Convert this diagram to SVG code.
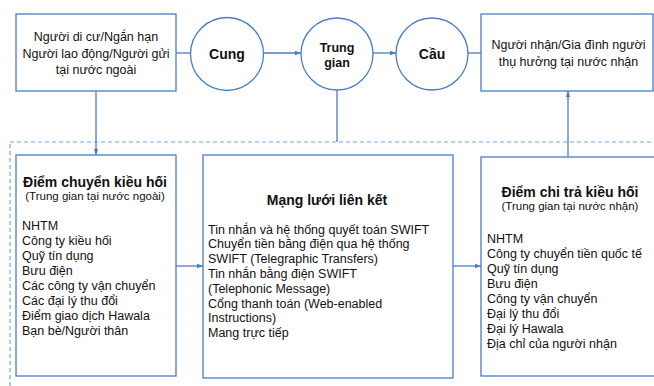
<svg xmlns="http://www.w3.org/2000/svg" width="654" height="386" viewBox="0 0 654 386">
<defs>
<style>
.box{fill:#fff;stroke:#4A7CC6;stroke-width:1.3}
.ln{fill:none;stroke:#4A7CC6;stroke-width:1.3}
.dash{fill:none;stroke:#7FA3DA;stroke-width:1.2;stroke-dasharray:4 3}
text{font-family:"Liberation Sans",Arial,sans-serif;fill:#111}
.t{font-size:12.5px}
.c{text-anchor:middle}
.b{font-weight:bold}
.h{font-size:14px;font-weight:bold}
.s{font-size:11.5px}
</style>
<marker id="ah" viewBox="0 0 6 6" refX="6" refY="3" markerWidth="6" markerHeight="6" orient="auto" markerUnits="userSpaceOnUse">
<path d="M0,0.8 L6,3 L0,5.2 Z" fill="#4A7CC6"/>
</marker>
</defs>
<rect width="654" height="386" fill="#fff"/>
<rect class="dash" x="10" y="142" width="660" height="260"/>
<g id="connectors">
<line class="ln" x1="176" y1="53" x2="190" y2="53"/>
<line class="ln" x1="263" y1="53" x2="301" y2="53" marker-end="url(#ah)"/>
<line class="ln" x1="373" y1="53" x2="396" y2="53" marker-end="url(#ah)"/>
<line class="ln" x1="468" y1="53" x2="481" y2="53"/>
<line class="ln" x1="96" y1="91" x2="96" y2="155" marker-end="url(#ah)"/>
<line class="ln" x1="337" y1="90" x2="337" y2="142"/>
<line class="ln" x1="568" y1="157" x2="568" y2="91" marker-end="url(#ah)"/>
<line class="ln" x1="176" y1="266" x2="203" y2="266" marker-end="url(#ah)"/>
<line class="ln" x1="453" y1="266" x2="481" y2="266" marker-end="url(#ah)"/>
</g>
<g id="sender">
<rect class="box" x="16" y="14" width="160" height="77"/>
<text class="t c" x="96" y="41">Người di cư/Ngắn hạn</text>
<text class="t c" x="96" y="57.5">Người lao động/Người gửi</text>
<text class="t c" x="96" y="74">tại nước ngoài</text>
</g>
<g id="cung">
<circle class="box" cx="227" cy="54" r="36.5"/>
<text class="h c" x="227" y="58.5">Cung</text>
</g>
<g id="trunggian">
<circle class="box" cx="337" cy="54" r="36"/>
<text class="t b c" x="337" y="51.5">Trung</text>
<text class="t b c" x="337" y="66.5">gian</text>
</g>
<g id="cau">
<circle class="box" cx="432" cy="54" r="36"/>
<text class="h c" x="432" y="58.5">Cầu</text>
</g>
<g id="receiver">
<rect class="box" x="481" y="14" width="172" height="77"/>
<text class="t c" x="568.5" y="49">Người nhận/Gia đình người</text>
<text class="t c" x="568.5" y="66">thụ hưởng tại nước nhận</text>
</g>
<g id="sendpoint">
<rect class="box" x="16" y="155" width="160" height="221"/>
<text class="h c" x="95" y="186.5">Điểm chuyển kiều hối</text>
<text class="s c" x="95" y="199.5">(Trung gian tại nước ngoài)</text>
<text class="t" x="22" y="229.5">NHTM</text>
<text class="t" x="22" y="244.5">Công ty kiều hối</text>
<text class="t" x="22" y="259.5">Quỹ tín dụng</text>
<text class="t" x="22" y="274.5">Bưu điện</text>
<text class="t" x="22" y="289.5">Các công ty vận chuyển</text>
<text class="t" x="22" y="304.5">Các đại lý thu đổi</text>
<text class="t" x="22" y="319.5">Điểm giao dịch Hawala</text>
<text class="t" x="22" y="334.5">Bạn bè/Người thân</text>
</g>
<g id="network">
<rect class="box" x="203" y="155" width="250" height="223"/>
<text class="h c" x="327" y="205">Mạng lưới liên kết</text>
<text class="t" x="208" y="233.5">Tin nhắn và hệ thống quyết toán SWIFT</text>
<text class="t" x="208" y="248.3">Chuyển tiền bằng điện qua hệ thống</text>
<text class="t" x="208" y="263.1">SWIFT (Telegraphic Transfers)</text>
<text class="t" x="208" y="277.9">Tin nhắn bằng điện SWIFT</text>
<text class="t" x="208" y="292.7">(Telephonic Message)</text>
<text class="t" x="208" y="307.5">Cổng thanh toán (Web-enabled</text>
<text class="t" x="208" y="322.3">Instructions)</text>
<text class="t" x="208" y="337.1">Mang trực tiếp</text>
</g>
<g id="paypoint">
<rect class="box" x="481" y="157" width="190" height="219"/>
<text class="h c" x="570" y="196.5">Điểm chi trả kiều hối</text>
<text class="s c" x="570" y="209.5">(Trung gian tại nước nhận)</text>
<text class="t" x="487" y="242.5">NHTM</text>
<text class="t" x="487" y="257.5">Công ty chuyển tiền quốc tế</text>
<text class="t" x="487" y="272.5">Quỹ tín dụng</text>
<text class="t" x="487" y="287.5">Bưu điện</text>
<text class="t" x="487" y="302.5">Công ty vận chuyển</text>
<text class="t" x="487" y="317.5">Đại lý thu đổi</text>
<text class="t" x="487" y="332.5">Đại lý Hawala</text>
<text class="t" x="487" y="347.5">Địa chỉ của người nhận</text>
</g>
</svg>
